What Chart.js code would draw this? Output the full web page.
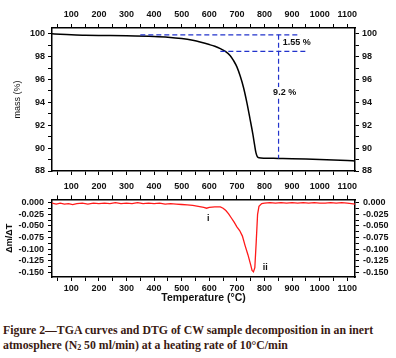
<!DOCTYPE html>
<html>
<head>
<meta charset="utf-8">
<script src="https://cdn.jsdelivr.net/npm/chart.js@4.4.0/dist/chart.umd.min.js"></script>
<style>
  body { margin: 0; background: #fff; width: 396px; height: 358px; overflow: hidden; position: relative; }
  canvas { position: absolute; left: 0; }
  #tga { top: 0; }
  #dtg { top: 190px; }
  #cap { position: absolute; left: 3px; top: 323px; font: bold 11.8px "Liberation Serif", "Times New Roman", serif;
         color: #3a1a12; line-height: 15px; white-space: nowrap; }
</style>
</head>
<body>
<canvas id="tga" width="396" height="190"></canvas>
<canvas id="dtg" width="396" height="115"></canvas>
<div id="cap">Figure 2—TGA curves and DTG of CW sample decomposition in an inert<br>atmosphere (N<sub style="font-size:8px;vertical-align:-1px">2</sub> 50 ml/min) at a heating rate of 10°C/min</div>
<script>
// TGA curve (mass %)
const tgaTemp = [30, 60, 100, 150, 200, 300, 400, 450, 500, 540, 570, 600, 620, 640, 658, 676, 688, 700, 712, 724, 736, 748, 758, 764, 769, 774, 780, 800, 850, 900, 950, 1000, 1050, 1100, 1128];
const tgaMass = [100.0, 99.95, 99.9, 99.87, 99.85, 99.82, 99.76, 99.7, 99.58, 99.42, 99.25, 99.05, 98.9, 98.7, 98.45, 98.08, 97.65, 97.1, 96.3, 95.3, 94.0, 92.5, 91.2, 90.3, 89.6, 89.25, 89.15, 89.12, 89.1, 89.08, 89.05, 89.0, 88.97, 88.92, 88.88];

// DTG curve
const dtgTemp = [30, 45, 60, 75, 90, 105, 120, 140, 160, 180, 200, 220, 240, 260, 280, 300, 320, 340, 360, 380, 400, 420, 440, 460, 480, 500, 520, 540, 560, 580, 590, 600, 620, 640, 650, 660, 670, 680, 690, 700, 710, 720, 730, 740, 750, 755, 760, 765, 770, 775, 780, 790, 800, 820, 840, 860, 880, 900, 920, 940, 960, 980, 1000, 1020, 1040, 1060, 1080, 1100, 1115, 1128];
const dtgRate = [-0.001, -0.003, -0.001, -0.003, -0.002, -0.004, -0.002, -0.001, -0.003, -0.001, -0.002, -0.001, -0.002, 0.000, -0.002, -0.001, -0.002, 0.000, -0.002, -0.001, -0.002, -0.001, -0.003, -0.002, -0.003, -0.004, -0.005, -0.006, -0.008, -0.010, -0.012, -0.010, -0.009, -0.009, -0.012, -0.017, -0.024, -0.033, -0.042, -0.052, -0.060, -0.072, -0.093, -0.112, -0.134, -0.146, -0.149, -0.140, -0.085, -0.025, -0.008, -0.002, -0.001, 0.000, -0.001, 0.000, -0.001, 0.000, -0.001, 0.000, -0.001, 0.000, -0.001, -0.001, 0.000, -0.001, 0.000, -0.001, -0.002, -0.003];

// axis ticks
const tempTicks = [100, 200, 300, 400, 500, 600, 700, 800, 900, 1000, 1100];
const massTicks = [88, 90, 92, 94, 96, 98, 100];
const dtgTicks = [0, -0.025, -0.05, -0.075, -0.1, -0.125, -0.15];

// dashed construction lines and their labels
const guideTop = [[350, 99.9], [930, 99.9]];
const guideMid = [[640, 98.45], [948, 98.45]];
const guideDrop = [[851, 99.9], [851, 89.1]];
const tgaNotes = [['1.55 %', 917, 99.2], ['9.2 %', 873, 94.9]];
const dtgNotes = [['i', 596, -0.034], ['ii', 803, -0.139]];

const FAM = '"Liberation Sans", Arial, sans-serif';
const tickFont = { family: FAM, size: 9, weight: 'bold' };

function pts(xs, ys) { return xs.map((x, i) => ({ x: x, y: ys[i] })); }
function pairPts(p) { return p.map(a => ({ x: a[0], y: a[1] })); }

// majors plus half-step minors, clipped to the axis range
function tickSet(majors, min, max) {
  const half = (majors[1] - majors[0]) / 2;
  const out = [];
  majors.forEach(m => {
    out.push({ value: m - half, lab: false });
    out.push({ value: m, lab: true });
  });
  out.push({ value: majors[majors.length - 1] + half, lab: false });
  return out.filter(t => t.value >= min - 1e-9 && t.value <= max + 1e-9);
}

function axis(pos, min, max, majors, fmt, size, pad, showLabels) {
  return {
    type: 'linear', position: pos, min: min, max: max,
    afterBuildTicks: s => { s.ticks = tickSet(majors, min, max); },
    afterFit: s => { if (pos === 'left' || pos === 'right') s.width = size; else s.height = size; },
    border: { display: true, color: '#000', width: 1.5 },
    grid: { drawOnChartArea: false, drawTicks: true, tickLength: 4, tickColor: '#000', tickWidth: 1 },
    ticks: {
      display: showLabels, font: tickFont, color: '#111', padding: pad, autoSkip: false, maxRotation: 0,
      callback: (v, i, ticks) => ticks[i].lab ? fmt(v) : ''
    }
  };
}

// text notes placed in data coordinates, on a white patch
const notePlugin = {
  id: 'notes',
  afterDatasetsDraw(chart, args, opts) {
    const ctx = chart.ctx, xs = chart.scales.x, ys = chart.scales.y;
    ctx.save();
    ctx.font = 'bold 9px ' + FAM;
    ctx.textAlign = 'center';
    ctx.textBaseline = 'middle';
    opts.items.forEach(n => {
      const px = xs.getPixelForValue(n[1]), py = ys.getPixelForValue(n[2]);
      const w = ctx.measureText(n[0]).width;
      ctx.fillStyle = '#fff';
      ctx.fillRect(px - w / 2 - 1, py - 5, w + 2, 10);
      ctx.fillStyle = '#111';
      ctx.fillText(n[0], px, py);
    });
    ctx.restore();
  }
};

const int0 = v => String(Math.round(v));
const dec3 = v => (Math.abs(v) < 1e-9 ? 0 : v).toFixed(3);
const dash = { borderColor: '#2233cc', borderWidth: 1.2, borderDash: [5, 3], pointRadius: 0, fill: false };

const tMin = 30, tMax = 1128;

new Chart(document.getElementById('tga'), {
  type: 'line',
  data: {
    datasets: [
      Object.assign({ data: pairPts(guideTop) }, dash),
      Object.assign({ data: pairPts(guideMid) }, dash),
      Object.assign({ data: pairPts(guideDrop) }, dash),
      { data: pts(tgaTemp, tgaMass), borderColor: '#000', borderWidth: 1.5, pointRadius: 0, cubicInterpolationMode: 'monotone', fill: false }
    ]
  },
  options: {
    responsive: false, animation: false,
    layout: { padding: 0 },
    plugins: { legend: { display: false }, tooltip: { enabled: false }, notes: { items: tgaNotes } },
    scales: {
      x: axis('bottom', tMin, tMax, tempTicks, int0, 19, 6, true),
      x2: axis('top', tMin, tMax, tempTicks, int0, 28, 4, true),
      y: Object.assign(axis('left', 88, 100.5, massTicks, int0, 52, 3, true), {
        title: { display: true, text: 'mass (%)', color: '#111', font: { family: FAM, size: 9 }, padding: { top: 12.6, bottom: 0 } }
      }),
      y2: axis('right', 88, 100.5, massTicks, int0, 41, 3, true)
    }
  },
  plugins: [notePlugin]
});

new Chart(document.getElementById('dtg'), {
  type: 'line',
  data: {
    datasets: [
      { data: pts(dtgTemp, dtgRate), borderColor: '#ff1a1a', borderWidth: 1.3, pointRadius: 0, tension: 0, fill: false }
    ]
  },
  options: {
    responsive: false, animation: false,
    layout: { padding: 0 },
    plugins: { legend: { display: false }, tooltip: { enabled: false }, notes: { items: dtgNotes } },
    scales: {
      x: Object.assign(axis('bottom', tMin, tMax, tempTicks, int0, 28, 2, true), {
        title: { display: true, text: 'Temperature (°C)', color: '#111', font: { family: FAM, size: 10.5, weight: 'bold' }, padding: { top: 0, bottom: 1 } }
      }),
      x2: axis('top', tMin, tMax, tempTicks, int0, 7, 0, false),
      y: Object.assign(axis('left', -0.16, 0.007, dtgTicks, dec3, 52, 4, true), {
        title: { display: true, text: 'Δm/ΔT', color: '#111', font: { family: FAM, size: 9, weight: 'bold' }, padding: { top: 4, bottom: 0 } }
      }),
      y2: axis('right', -0.16, 0.007, dtgTicks, dec3, 41, 4, true)
    }
  },
  plugins: [notePlugin]
});
</script>
</body>
</html>
